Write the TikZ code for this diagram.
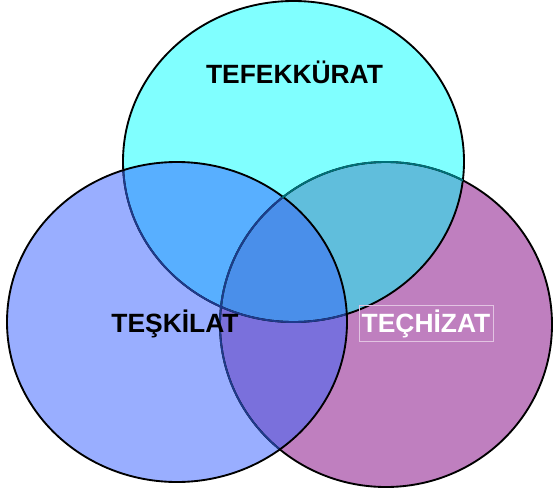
\documentclass[tikz,border=0pt]{standalone}
\usepackage{fontspec}
\setmainfont{Liberation Sans}
\definecolor{cT}{HTML}{80FFFF}
\definecolor{cL}{HTML}{99AEFF}
\definecolor{cR}{HTML}{BF7FBF}
\definecolor{cTL}{HTML}{58AFFF}
\definecolor{cTR}{HTML}{60BEDC}
\definecolor{cLR}{HTML}{7A70DC}
\definecolor{cTLR}{HTML}{4A8FEA}
\definecolor{navy}{HTML}{1E3A8C}
\definecolor{teal}{HTML}{007078}
\definecolor{boxline}{HTML}{E2C4E2}
\tikzset{
  outline/.style={line width=1.4pt},
  lbl/.style={font=\fontsize{19.8}{23}\selectfont\bfseries, inner sep=0pt}
}
\def\topE{(293.5,161.5) ellipse [x radius=127.875pt, y radius=120.375pt]}
\def\leftE{(177,322) ellipse [x radius=127.5pt, y radius=120pt]}
\def\rightE{(386,324.5) ellipse [x radius=124.5pt, y radius=121.875pt]}
\begin{document}
\begin{tikzpicture}[x=0.75pt,y=-0.75pt]
\useasboundingbox (0,0) rectangle (553,489);
% base fills
\fill[cL] \leftE;
\fill[cR] \rightE;
\fill[cT] \topE;
% pairwise overlaps
\begin{scope}\clip \topE; \fill[cTL] \leftE; \end{scope}
\begin{scope}\clip \topE; \fill[cTR] \rightE; \end{scope}
\begin{scope}\clip \leftE; \fill[cLR] \rightE; \end{scope}
\begin{scope}\clip \topE; \clip \leftE; \fill[cTLR] \rightE; \end{scope}
% outlines
\draw[outline] \rightE;
\draw[outline] \topE;
\draw[outline] \leftE;
% tinted parts of outlines lying under other fills
\begin{scope}\clip \topE; \draw[outline,teal] \rightE; \end{scope}
\begin{scope}\clip (177,322) ellipse [x radius=126.6pt, y radius=119.1pt];
  \draw[outline,navy] \rightE; \draw[outline,navy] \topE; \end{scope}
% labels
\node[lbl] (tef) at (294.5,72) {TEFEKKÜRAT};
\node[lbl] (tes) at (175,324) {TEŞKİLAT};
\node[lbl, text=white, draw=boxline, line width=0.5pt, inner xsep=2pt, inner ysep=3pt] (tec) at (426,323.5) {TEÇHİZAT};
\end{tikzpicture}
\end{document}
